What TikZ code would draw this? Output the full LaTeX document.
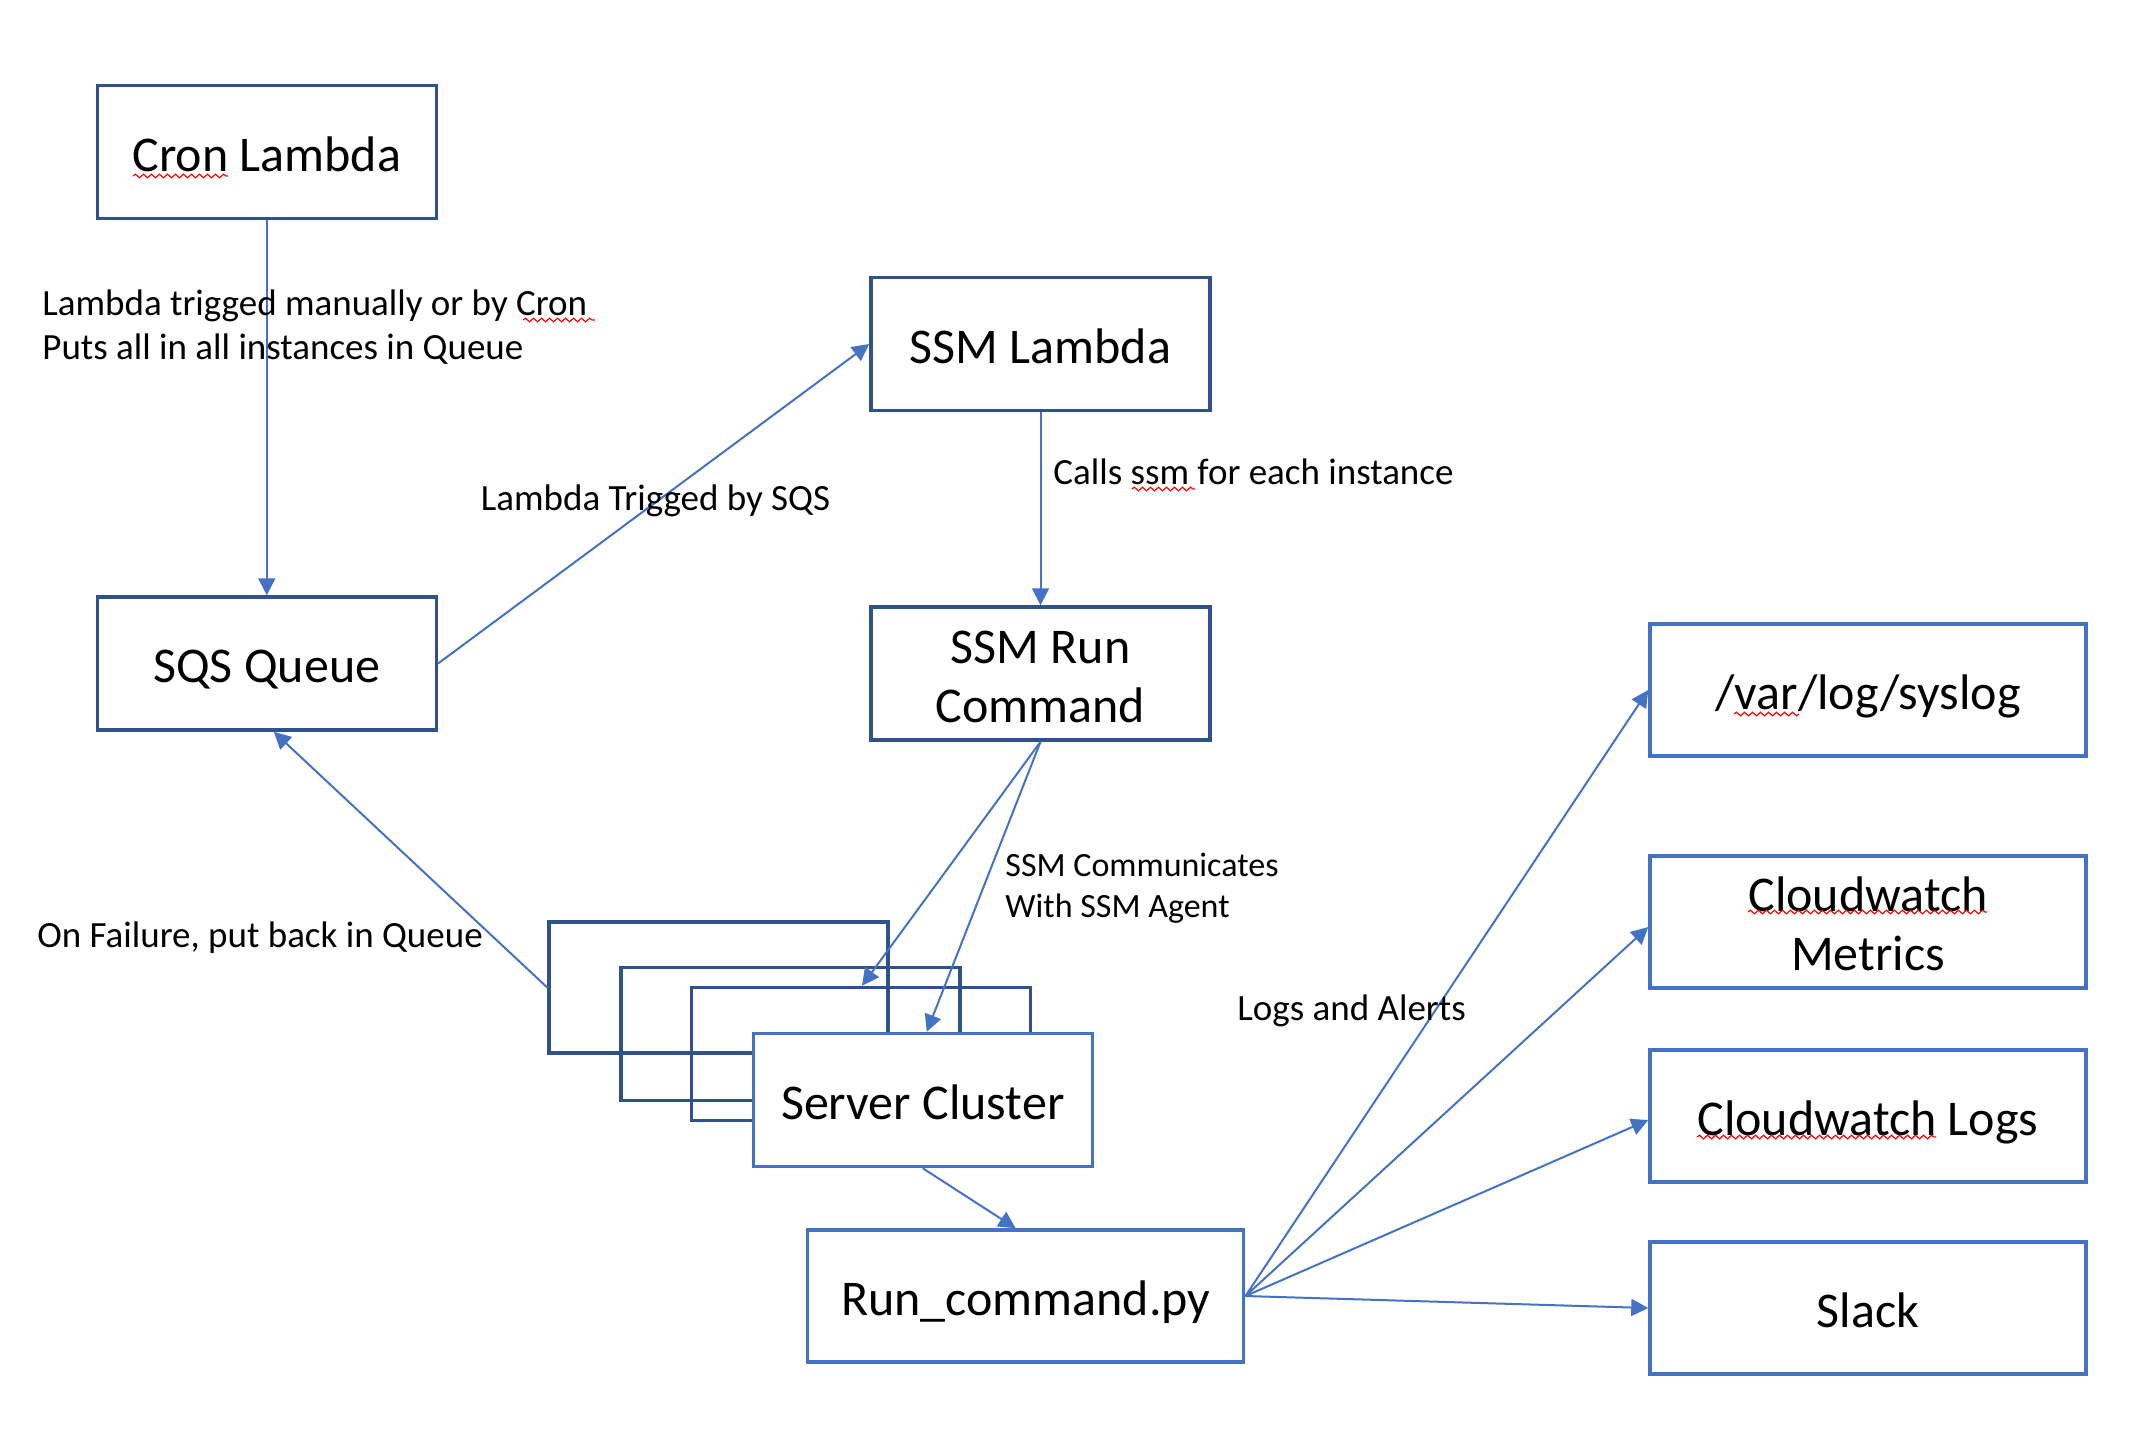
\documentclass[tikz,border=0pt]{standalone}
\usepackage{fontspec}
\setmainfont{Carlito}
\usetikzlibrary{arrows.meta,decorations.pathmorphing}
\definecolor{dk}{HTML}{2F528F}
\definecolor{lt}{HTML}{4472C4}
\newcommand\bx[1]{\raisebox{0pt}[0.764em][0pt]{#1}}
\newcommand\lx[1]{\raisebox{0pt}[0.644em][0pt]{#1}}
\begin{document}
\begin{tikzpicture}[x=0.5pt,y=-0.5pt,
  box/.style={draw=dk,line width=1.75pt,minimum width=169.5pt,minimum height=66.5pt,inner sep=0pt,align=center,font=\fontsize{25}{29.5}\selectfont},
  lbox/.style={box,draw=lt},
  rbox/.style={lbox,minimum width=218pt,minimum height=66pt},
  lbl/.style={inner sep=0pt,anchor=west,align=left,font=\fontsize{18.5}{22}\selectfont},
  slbl/.style={lbl,font=\fontsize{17}{20.75}\selectfont},
  conn/.style={draw=lt,line width=1pt,-{Triangle[length=8.5pt,width=8.5pt]}},
  squig/.style={draw=red,line width=0.6pt,decorate,decoration={snake,amplitude=0.9pt,segment length=4pt}}]
\useasboundingbox (0,0) rectangle (2156,1452);
% boxes
\node[box] (cron) at (266.8,152) {\bx{Cron Lambda}};
\node[box] (sqs) at (266.8,663.5) {\bx{SQS Queue}};
\node[box] (ssml) at (1040.5,344) {\bx{SSM Lambda}};
\node[box] (ssmr) at (1040.5,673.5) {\bx{SSM Run}\\\bx{Command}};
\node[box,minimum height=65.5pt] (b1) at (718.5,987.5) {};
\node[box] (b2) at (790.5,1034) {};
\node[box] (b3) at (861,1054) {};
\node[lbox,fill=white] (cluster) at (922.75,1100) {\bx{Server Cluster}};
\node[rbox] (run) at (1025.7,1296) {\bx{Run\_command.py}};
\node[rbox] (syslog) at (1868,690) {\bx{/var/log/syslog}};
\node[rbox] (metrics) at (1868,922) {\bx{Cloudwatch}\\\bx{Metrics}};
\node[rbox] (cwlogs) at (1868,1116) {\bx{Cloudwatch Logs}};
\node[rbox] (slack) at (1868,1308) {\bx{Slack}};
% connectors
\draw[conn] (cron) -- (sqs);
\draw[conn] (sqs.east) -- (ssml.west);
\draw[conn] (ssml) -- (ssmr);
\draw[conn] (ssmr.south) -- ([xshift=0.5pt]b3.north);
\draw[conn] (ssmr.south) -- ([xshift=2pt]cluster.north);
\draw[conn] (b1.west) -- ([xshift=3.5pt]sqs.south);
\draw[conn] (cluster.south) -- ([xshift=-5pt]run.north);
\draw[conn] (run.east) -- (syslog.west);
\draw[conn] (run.east) -- ([yshift=-2.5pt]metrics.west);
\draw[conn] (run.east) -- ([yshift=-2pt]cwlogs.west);
\draw[conn] (run.east) -- (slack.west);
% labels
\node[lbl] (l1) at (42,325.5) {\lx{Lambda trigged manually or by Cron}\\\lx{Puts all in all instances in Queue}};
\node[lbl] (l2) at (480.5,499) {\lx{Lambda Trigged by SQS}};
\node[lbl] (l3) at (1053,473) {\lx{Calls ssm for each instance}};
\node[slbl] (l4) at (1005,886) {\lx{SSM Communicates}\\\lx{With SSM Agent}};
\node[lbl] (l5) at (37,935.5) {\lx{On Failure, put back in Queue}};
\node[lbl] (l6) at (1237,1008.5) {\lx{Logs and Alerts}};
% spell-check squiggles
\draw[squig] (133,176) -- (228,176);
\draw[squig] (523,320) -- (595,320);
\draw[squig] (1132,489) -- (1195,489);
\draw[squig] (1734,714) -- (1799,714);
\draw[squig] (1748,912) -- (1987,912);
\draw[squig] (1697,1137) -- (1936,1137);
\end{tikzpicture}
\end{document}
